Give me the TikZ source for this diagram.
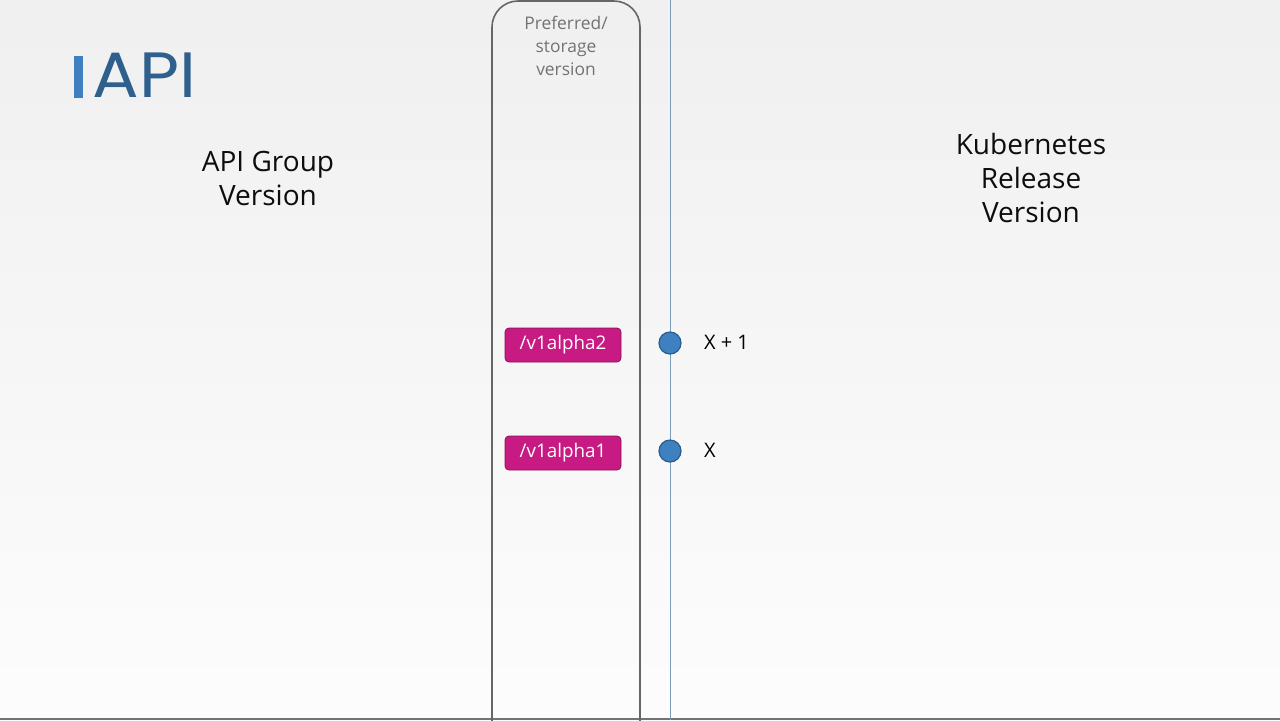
\documentclass[tikz,border=0pt]{standalone}
\usepackage{fontspec}
\setmainfont{Open Sans}
\newfontfamily\titlefont{Poppins}
\usepackage{tikz}
\usetikzlibrary{positioning}

\definecolor{apiblue}{HTML}{2F5F8C}
\definecolor{barblue}{HTML}{3F7FBF}
\definecolor{tagpink}{HTML}{C71A82}
\definecolor{tagedge}{HTML}{8E1059}
\definecolor{dotblue}{HTML}{3F80C0}
\definecolor{dotedge}{HTML}{2A5C8C}
\definecolor{lineblue}{HTML}{7C9CBE}

\tikzset{
    heading/.style={font=\fontsize{14}{17}\selectfont, text=black!95, align=center},
    tag/.style={draw=tagedge, fill=tagpink, rounded corners=2pt, text=white,
        minimum width=58pt, minimum height=17pt, inner sep=0pt,
        font=\fontsize{9.4}{11}\selectfont},
    dot/.style={circle, draw=dotedge, fill=dotblue, line width=0.6pt,
        minimum size=11pt, inner sep=0pt},
    rel/.style={font=\fontsize{10}{12}\selectfont, text=black, anchor=west}
}

\begin{document}
\begin{tikzpicture}[x=0.5pt, y=-0.5pt]

    % Fondo
    \shade[top color=black!6, bottom color=black!1] (0,0) rectangle (1280,720);
    \useasboundingbox (0,0) rectangle (1280,720);
    \draw[black!55, line width=0.8pt] (0,719) -- (1280,719);

    % Titulo
    \fill[barblue] (74,56) rectangle (83,98);
    \node[anchor=west, inner sep=0pt, text=apiblue, xscale=1.08,
        font=\titlefont\fontsize{32}{32}\selectfont] (title) at (92,75) {API};

    % Columna de versiones preferidas
    \draw[black!60, line width=0.8pt, rounded corners=13pt]
        (492,730) -- (492,1) -- (640,1) -- (640,730);
    \node[font=\fontsize{8.7}{11.5}\selectfont, text=black!55, align=center]
        (pref) at (566,46) {Preferred/\\storage\\version};

    % Encabezados
    \node[heading] (group) at (268,178) {API Group\\Version};
    \node[heading] (release) at (1031,178) {Kubernetes\\Release\\Version};

    % Linea de tiempo
    \coordinate (ttop) at (670,0);
    \coordinate (tbot) at (670,720);
    \draw[lineblue, line width=0.5pt] (ttop) -- (tbot);

    % Versiones
    \foreach \name/\y/\lbl/\k in {a2/345/X + 1/2, a1/453/X/1}{
        \node[tag] (v\name) at (563,\y) {/v1alpha\k};
        \node[dot] (d\name) at (670,\y-2) {};
        \node[rel] (r\name) at (697,\y-3) {\lbl};
    }
\end{tikzpicture}
\end{document}
